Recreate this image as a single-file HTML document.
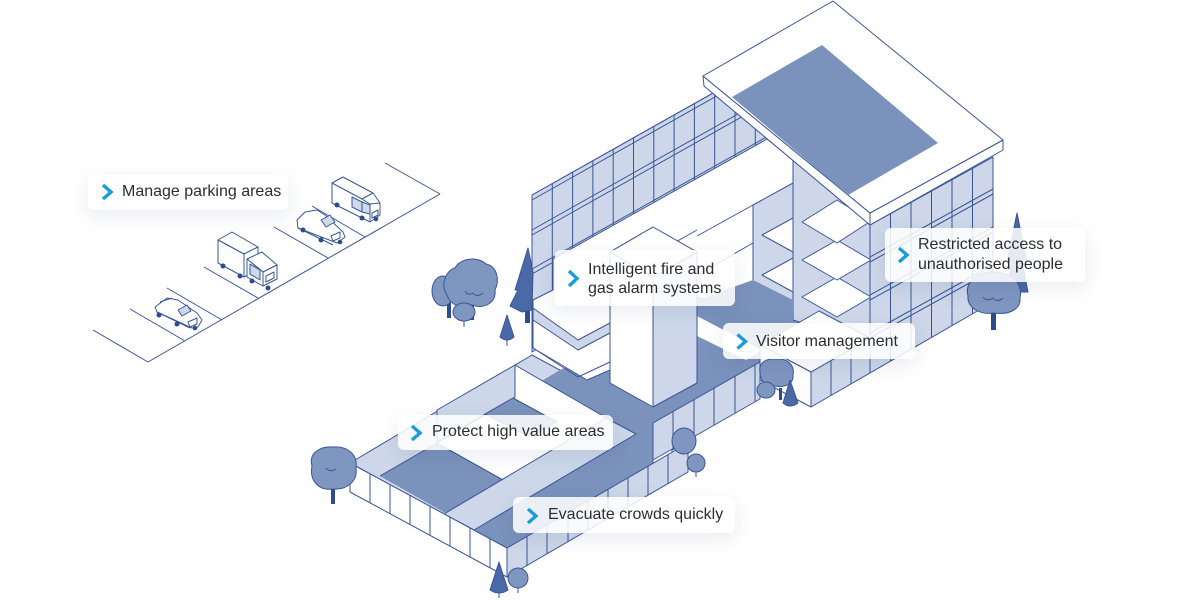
<!DOCTYPE html>
<html><head><meta charset="utf-8">
<style>
html,body{margin:0;padding:0;background:#fff;}
#w{position:relative;width:1200px;height:600px;overflow:hidden;background:#fff;font-family:"Liberation Sans",Arial,sans-serif;}
svg{position:absolute;left:0;top:0;}
.lb{position:absolute;background:rgba(255,255,255,0.86);border-radius:6px;box-shadow:0 6px 20px rgba(40,60,110,0.10);}
.tx{position:absolute;font-size:16px;line-height:20px;color:#2b2d31;white-space:nowrap;}
</style></head><body><div id="w">
<svg width="1200" height="600" viewBox="0 0 1200 600">
<g stroke="#3a5597" stroke-width="1" stroke-linejoin="round" fill="none">
<!-- parking -->
<path d="M148,362 L440,194 M93,330 L148,362 M130,309 L185,341 M167,288 L222,320 M204,267 L258,298 M274,227 L328,258 M312,206 L365,237 M385,163 L440,194"/>
<!-- car1 -->
<g fill="#fff">
<polygon points="155,307 167,298 178,300 197,313 202,320 198,327 192,328 157,312"/>
<polygon points="178,310 187,305 191,311 182,316" fill="#cfd9ea"/>
<polygon points="188,322 197,318 197,324 190,327" fill="#fff"/>
<path d="M157,312 L190,328 M160,302 L172,298"/>
</g>
<g fill="#2d4b90" stroke="none"><ellipse cx="159" cy="315" rx="2.5" ry="2.5"/><ellipse cx="177" cy="324" rx="2.5" ry="2.5"/><ellipse cx="195" cy="328" rx="2.3" ry="2.3"/></g>
<!-- truck -->
<g fill="#fff">
<polygon points="218,240 232,232 258,247 244,254"/>
<polygon points="218,240 244,254 244,277 218,263"/>
<polygon points="244,254 258,247 258,270 244,277"/>
<polygon points="247,259 262,252 277,265 263,272"/>
<polygon points="247,259 263,272 263,286 247,277"/>
<polygon points="263,272 277,265 277,279 263,286"/>
<polygon points="250,264 260,270 260,280 250,274" fill="#cfd9ea"/>
<polygon points="266,276 274,272 274,278 266,282"/>
</g>
<g fill="#2d4b90" stroke="none"><ellipse cx="223" cy="266" rx="2.5" ry="2.5"/><ellipse cx="240" cy="276" rx="2.5" ry="2.5"/><ellipse cx="252" cy="281" rx="2.5" ry="2.5"/><ellipse cx="268" cy="288" rx="2.5" ry="2.5"/></g>
<!-- car2 -->
<g fill="#fff">
<polygon points="297,220 305,212 317,210 325,215 343,232 345,237 337,243 298,228"/>
<polygon points="321,220 330,215 335,222 326,227" fill="#cfd9ea"/>
<polygon points="331,236 340,232 340,238 333,241"/>
<path d="M298,228 L333,245"/>
</g>
<g fill="#2d4b90" stroke="none"><ellipse cx="303" cy="230" rx="2.5" ry="2.5"/><ellipse cx="321" cy="240" rx="2.5" ry="2.5"/><ellipse cx="340" cy="242" rx="2.3" ry="2.3"/></g>
<!-- van -->
<g fill="#fff">
<polygon points="332,183 343,177 373,193 380,203 380,215 370,222 332,203"/>
<path d="M332,183 L362,199 L370,204 L370,222 M362,199 L373,193 M370,204 L380,203"/>
<polygon points="352,197 362,202 362,212 352,207" fill="#cfd9ea"/>
<polygon points="362,202 370,205 370,214 362,212" fill="#cfd9ea"/>
<polygon points="372,213 378,210 378,215 372,218"/>
</g>
<g fill="#2d4b90" stroke="none"><ellipse cx="337" cy="205" rx="2.5" ry="2.5"/><ellipse cx="362" cy="218" rx="2.5" ry="2.5"/><ellipse cx="376" cy="219" rx="2.3" ry="2.3"/></g>

<!-- left wing glass facade -->
<polygon points="532,195 793,48 793,205 532,352" fill="#cdd7e9"/>
<path d="M532,195 L532,352 M552.3,183.6 L552.3,340.6 M572.6,172.1 L572.6,329.1 M592.9,160.7 L592.9,317.7 M613.2,149.3 L613.2,306.3 M633.5,137.8 L633.5,294.8 M653.8,126.4 L653.8,283.4 M674.1,115 L674.1,272 M694.4,103.5 L694.4,260.5 M714.7,92.1 L714.7,249.1 M735,80.7 L735,237.7 M755.3,69.2 L755.3,226.2 M775.6,57.8 L775.6,214.8"/>
<path d="M532,195 L793,48 M532,200 L793,53 M532,230 L793,83 M532,235 L793,88 M532,269 L793,122 M532,274 L793,127 M532,308 L793,161 M532,313 L793,166"/>

<!-- podium base -->
<polygon points="350,463 532,355 689,440 507,548" fill="#cdd7e9"/>
<!-- courtyard dark floor -->
<polygon points="380,476 507,548 653,464 653,423 760,362 800,340 800,288 753,266 697,296 640,330 560,370 515,397 437,443" fill="#7a92bc" stroke="none"/>

<!-- central white floors -->
<polygon points="553,259 767,139 793,160 793,300 697,298 697,252 653,227 610,252 610,370 587,380 533,348 533,300 553,290" fill="#fff"/>
<polygon points="533,308 578,340 610,323 610,333 578,350 533,320" fill="#cdd7e9"/>
<path d="M533,348 L578,377 L610,362 M697,236 L753,205 M697,275 L753,243 M640,262 L697,230"/>
<!-- column faces -->
<polygon points="753,205 793,183 793,318 753,313" fill="#cdd7e9"/>
<polygon points="793,160 870,225 870,345 793,320" fill="#cdd7e9"/>
<g fill="#fff">
<polygon points="802,297 837,277 871,297 837,317"/>
<polygon points="802,260 837,240 871,260 837,280"/>
<polygon points="802,222 837,200 871,221 837,243"/>
<polygon points="762,275 793,258 793,292"/>
<polygon points="762,235 793,218 793,252"/>
</g>
<!-- dark patch and path near visitor -->
<polygon points="697,300 753,280 793,300 793,322 740,335 697,318" fill="#7a92bc" stroke="none"/>
<polygon points="697,316 762,350 746,360 697,336" fill="#fff" stroke="none"/>

<!-- tower -->
<polygon points="610,252 653,277 653,407 610,383" fill="#fff"/>
<polygon points="653,277 697,252 697,383 653,407" fill="#cdd7e9"/>
<polygon points="610,252 653,227 697,252 653,277" fill="#fff"/>

<!-- right block glass -->
<polygon points="870,225 993,157 993,302 811,407 811,372 870,338" fill="#cdd7e9"/>
<path d="M890.5,213.7 L890.5,361.2 M911,202.3 L911,349.3 M931.5,191 L931.5,337.5 M952,179.7 L952,325.7 M972.5,168.4 L972.5,313.8 M993,157 L993,302 M870,225 L870,373 M831,360.5 L831,395.5 M851,349 L851,384 M811,372 L870,338"/>
<path d="M870,257 L993,189 M870,262 L993,194 M870,295 L993,227 M870,300 L993,232 M870,333 L993,265 M870,338 L993,270"/>

<!-- roof -->
<polygon points="703,76 870,213 870,225 704,86" fill="#fff"/>
<polygon points="870,213 1003,140 1003,150 870,225" fill="#fff"/>
<polygon points="833,1 703,76 870,213 1003,140" fill="#fff"/>
<polygon points="822,45 732,97 848,195 938,143" fill="#7a92bc" stroke="none"/>

<!-- podium top features -->
<polygon points="515,365 610,420 503,480 437,443 515,397" fill="#fff"/>
<polygon points="437,410 515,365 515,397 437,442" fill="#cdd7e9"/>
<polygon points="485,414 513,398 557,422 530,437" fill="#7a92bc"/>
<polygon points="444,514 606,418 636,434 474,530" fill="#cdd7e9"/>
<path d="M380,476 L437,443 L503,480"/>

<!-- podium walls -->
<polygon points="350,463 507,548 507,577 350,492" fill="#fff"/>
<path d="M370,473.8 L370,502.8 M390,484.7 L390,513.7 M410,495.5 L410,524.5 M430,506.3 L430,535.3 M450,517.1 L450,546.1 M470,528 L470,557 M490,538.8 L490,567.8"/>
<polygon points="653,423 672,433 672,455 653,465" fill="#fff"/>
<polygon points="653,423 760,362 760,399 653,460" fill="#cdd7e9"/>
<path d="M673,411.6 L673,448.6 M694,399.6 L694,436.6 M714,388.2 L714,425.2 M735,376.3 L735,413.3 M755,364.9 L755,401.9"/>
<polygon points="507,548 688,443 688,472 507,577" fill="#cdd7e9"/>
<path d="M527,536.4 L527,565.4 M547,524.8 L547,553.8 M568,512.6 L568,541.6 M588,501 L588,530 M608,489.4 L608,518.4 M628,477.8 L628,506.8 M648,466.2 L648,495.2 M668,454.6 L668,483.6"/>
<!-- visitor box -->
<polygon points="760,345 811,372 870,338 819,311" fill="#fff"/>
<polygon points="760,345 811,372 811,407 760,380" fill="#fff"/>
</g>

<!-- trees -->
<g stroke="#3a5597" stroke-width="1" stroke-linejoin="round">
<g fill="#2d4b90" stroke="none">
<rect x="447" y="298" width="4" height="20"/><rect x="470" y="300" width="4" height="20"/>
<rect x="525" y="305" width="5" height="18"/>
<rect x="331" y="485" width="4" height="19"/>
<rect x="991" y="308" width="5" height="22"/>
<rect x="779" y="388" width="3" height="12"/>
</g>
<polygon points="1017,213 1027,262 1022,262 1028,292 1006,292 1012,262 1007,262" fill="#4a69a6"/>
<ellipse cx="443" cy="291" rx="11" ry="15" fill="#7f96c0"/>
<path d="M447,295 C440,285 446,270 455,268 C460,258 478,256 486,264 C497,266 500,280 495,290 C497,302 484,310 472,305 C462,310 450,305 447,295 Z" fill="#7f96c0"/>
<path d="M465,291 q3,5 8,2 q4,5 10,0" fill="none"/>
<ellipse cx="464" cy="312" rx="11" ry="9" fill="#7f96c0"/>
<path d="M464,321 L464,327 M507,340 L507,346 M499,590 L499,598 M518,588 L518,593 M696,472 L696,477" fill="none"/>
<path d="M528,248 L533,272 L532,310 L522,312 L510,306 L518,290 L515,290 Z" fill="#4a69a6"/>
<path d="M507,315 L514,337 Q507,343 500,337 Z" fill="#4a69a6"/>
<path d="M312,466 C308,452 322,446 333,447 C347,446 358,454 356,468 C358,482 346,490 333,489 C320,491 309,482 312,466 Z" fill="#7f96c0"/>
<path d="M326,468 q4,5 10,1" fill="none"/>
<path d="M499,562 L508,590 Q499,596 490,590 Z" fill="#4a69a6"/>
<ellipse cx="518" cy="578" rx="10" ry="10" fill="#7f96c0"/>
<ellipse cx="684" cy="441" rx="12" ry="13" fill="#7f96c0"/>
<ellipse cx="696" cy="463" rx="9" ry="9" fill="#7f96c0"/>
<path d="M760,372 C758,362 768,358 776,359 C788,358 795,366 793,375 C794,384 784,388 776,386 C766,388 760,381 760,372 Z" fill="#7f96c0"/>
<ellipse cx="766" cy="390" rx="9" ry="8" fill="#7f96c0"/>
<path d="M790,380 L798,403 Q790,409 783,403 Z" fill="#4a69a6"/>
<path d="M968,296 C964,282 978,272 994,272 C1012,272 1023,284 1020,298 C1021,310 1008,315 994,313 C980,315 967,308 968,296 Z" fill="#7f96c0"/>
<path d="M983,297 q4,5 10,1 q4,5 10,0" fill="none"/>
</g>
</svg>

<div class="lb" style="left:88px;top:175px;width:200px;height:35px;"></div>
<div class="tx" style="left:122px;top:182px;">Manage parking areas</div>

<div class="lb" style="left:555px;top:250px;width:180px;height:56px;"></div>
<div class="tx" style="left:588px;top:260px;line-height:19px;">Intelligent fire and<br>gas alarm systems</div>

<div class="lb" style="left:885px;top:228px;width:200px;height:54px;"></div>
<div class="tx" style="left:918px;top:235px;">Restricted access to<br>unauthorised people</div>

<div class="lb" style="left:723px;top:323px;width:192px;height:36px;"></div>
<div class="tx" style="left:756px;top:332px;">Visitor management</div>

<div class="lb" style="left:398px;top:415px;width:215px;height:35px;"></div>
<div class="tx" style="left:432px;top:422px;">Protect high value areas</div>

<div class="lb" style="left:513px;top:497px;width:222px;height:36px;"></div>
<div class="tx" style="left:548px;top:505px;">Evacuate crowds quickly</div>

<svg width="1200" height="600" viewBox="0 0 1200 600" style="pointer-events:none">
<g fill="none" stroke="#1b9bd7" stroke-width="3.4" stroke-linejoin="miter">
<polyline points="103,185 111,192 103,199"/>
<polyline points="569,271 577,278.5 569,286"/>
<polyline points="899,248 907,255 899,262"/>
<polyline points="737.5,334.5 745.5,341.5 737.5,348.5"/>
<polyline points="412,426 420,433 412,440"/>
<polyline points="528,509 536,516 528,523"/>
</g>
</svg>
</div></body></html>
